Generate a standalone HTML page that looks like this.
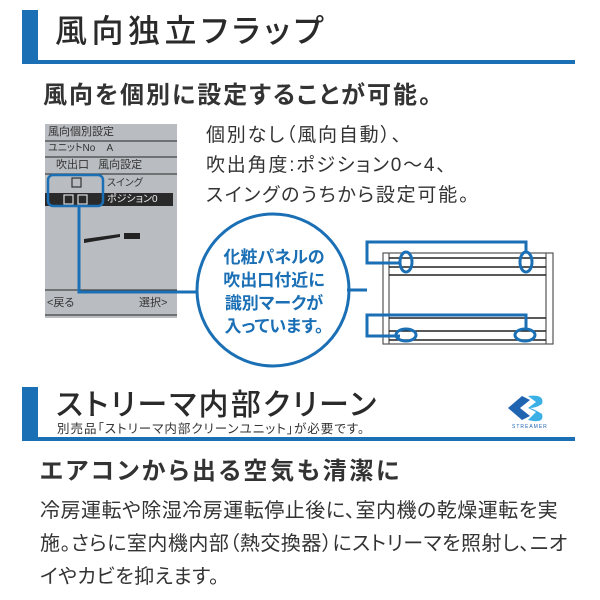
<!DOCTYPE html>
<html><head><meta charset="utf-8"><style>
body{margin:0;width:600px;height:600px;background:#fff;position:relative;overflow:hidden;font-family:"Liberation Sans","Noto Sans CJK JP",sans-serif;color:#333;font-feature-settings:"palt"}
.a{position:absolute;white-space:nowrap}
</style></head><body>
<svg class="a" style="left:0;top:0" width="600" height="600">
<rect x="22" y="10" width="16" height="54" fill="#1a6fb5"/>
<rect x="22" y="60" width="553" height="4" fill="#1a6fb5"/>
<rect x="22" y="387" width="16" height="54" fill="#1a6fb5"/>
<rect x="22" y="437" width="553" height="4" fill="#1a6fb5"/>
<rect x="45" y="124" width="132" height="194" fill="#b9bdc1"/>
<g stroke="#444" stroke-width="1.2">
<line x1="45" y1="141" x2="177" y2="141"/><line x1="45" y1="157" x2="177" y2="157"/>
<line x1="45" y1="174" x2="177" y2="174"/><line x1="45" y1="290" x2="177" y2="290"/>
<line x1="45" y1="315" x2="177" y2="315"/></g>
<rect x="45" y="193" width="128" height="13" fill="#2a2a2a"/>
<rect x="72" y="178" width="9" height="9" fill="none" stroke="#333" stroke-width="1.2"/>
<rect x="64" y="195" width="9" height="9" fill="none" stroke="#ddd" stroke-width="1.2"/>
<rect x="78" y="195" width="9" height="9" fill="none" stroke="#ddd" stroke-width="1.2"/>
<polygon points="84,239 120,234 120,237 84,243" fill="#222"/>
<rect x="124" y="233" width="16" height="6" fill="#222"/>
<rect x="48" y="175" width="55" height="31" rx="5" fill="none" stroke="#1a6fb5" stroke-width="2.5"/>
<polyline points="79,206 79,292 200,292" fill="none" stroke="#1a6fb5" stroke-width="3"/>
<circle cx="273" cy="290" r="76" fill="#fff" stroke="#1a6fb5" stroke-width="3"/>
<g stroke="#555" stroke-width="1.2" fill="none">
<rect x="383" y="253" width="170" height="91"/>
<line x1="389" y1="253" x2="389" y2="344"/><line x1="546" y1="253" x2="546" y2="344"/>
</g>
<g stroke="#222" stroke-width="1.5">
<line x1="389" y1="258" x2="546" y2="258"/><line x1="389" y1="267" x2="546" y2="267"/><line x1="389" y1="275" x2="546" y2="275"/>
<line x1="389" y1="318" x2="546" y2="318"/><line x1="389" y1="331" x2="546" y2="331"/><line x1="389" y1="340" x2="546" y2="340"/>
</g>
<g fill="none" stroke="#1a6fb5" stroke-width="3">
<polyline points="347,290 367,290"/>
<polyline points="400,263 367,263 367,242 526,242 526,252"/>
<polyline points="400,336 367,336 367,315 526,315 526,329"/>
<ellipse cx="406" cy="262" rx="6" ry="10"/><ellipse cx="526" cy="262" rx="6" ry="10"/>
<ellipse cx="406" cy="335" rx="10" ry="6"/><ellipse cx="525" cy="335" rx="10" ry="6"/>
</g>
<path d="M508,408 L522,396 L530,400 L520,408 L530,416 L522,420 Z" fill="#1f64b0"/>
<path d="M528,396 Q545,394 542,404 Q536,408 530,408 Q536,410 542,414 Q545,424 528,420 L536,412 L528,408 L536,402 Z" fill="#3ab0e6"/>
</svg>
<div class="a" style="left:55px;top:9px;font-size:32px;line-height:44px;color:#2a2a2a;font-weight:500;letter-spacing:4.5px">風向独立フラップ</div>
<div class="a" style="left:43px;top:80px;font-size:24px;line-height:32px;color:#333;font-weight:bold;letter-spacing:2px">風向を個別に設定することが可能。</div>
<div class="a" style="left:48px;top:124px;font-size:11px;line-height:16px">風向個別設定</div>
<div class="a" style="left:48px;top:141px;font-size:10px;line-height:16px">ユニットNo&nbsp;&nbsp;&nbsp;&nbsp;A</div>
<div class="a" style="left:56px;top:157px;font-size:11px;line-height:17px">吹出口&nbsp;&nbsp;&nbsp;風向設定</div>
<div class="a" style="left:107px;top:175px;font-size:10px;line-height:17px">スイング</div>
<div class="a" style="left:107px;top:192px;font-size:10px;line-height:15px;color:#eee">ポジション0</div>
<div class="a" style="left:47px;top:295px;font-size:11px;line-height:16px">&lt;戻る</div>
<div class="a" style="left:139px;top:295px;font-size:11px;line-height:16px">選択&gt;</div>
<div class="a" style="left:206px;top:121px;font-size:19px;line-height:30px;letter-spacing:1.8px">個別なし（風向自動）、<br>吹出角度:ポジション0〜4、<br>スイングのうちから設定可能。</div>
<div class="a" style="left:222px;top:246px;width:104px;text-align:center;font-size:17px;line-height:23px;color:#1a6fb5;font-weight:bold">化粧パネルの<br>吹出口付近に<br>識別マークが<br>入っています。</div>
<div class="a" style="left:56px;top:386px;font-size:30px;line-height:40px;color:#2a2a2a;font-weight:500;letter-spacing:2.3px">ストリーマ内部クリーン</div>
<div class="a" style="left:57px;top:422px;font-size:12.5px;line-height:15px;letter-spacing:1px">別売品「ストリーマ内部クリーンユニット」が必要です。</div>
<div class="a" style="left:512px;top:424px;font-size:5px;color:#1f64b0;letter-spacing:1px">STREAMER</div>
<div class="a" style="left:40px;top:456px;font-size:24px;line-height:32px;letter-spacing:2.7px;font-weight:bold">エアコンから出る空気も清潔に</div>
<div class="a" style="left:40px;top:495px;font-size:20px;line-height:33px;letter-spacing:0.5px">冷房運転や除湿冷房運転停止後に、室内機の乾燥運転を実<br>施。さらに室内機内部（熱交換器）にストリーマを照射し、ニオ<br>イやカビを抑えます。</div>
</body></html>
